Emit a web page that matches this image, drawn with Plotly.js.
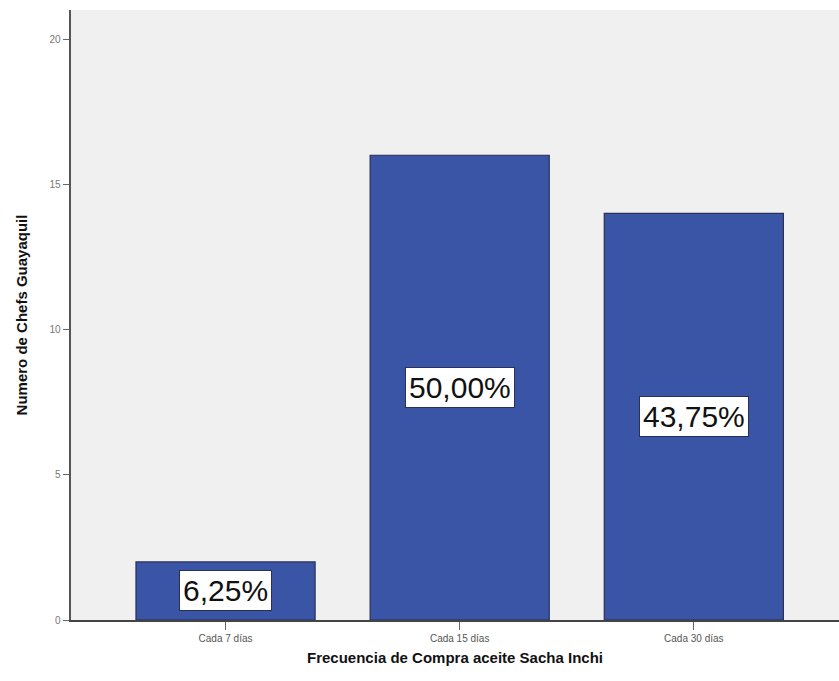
<!DOCTYPE html>
<html>
<head>
<meta charset="utf-8">
<script src="https://cdn.plot.ly/plotly-3.0.1.min.js"></script>
<style>html,body{margin:0;padding:0;background:#fff;}#chart{width:839px;height:681px;}</style>
</head>
<body>
<div id="chart"></div>
<script>
const categories = ["Cada 7 días", "Cada 15 días", "Cada 30 días"];
const counts = [2, 16, 14];
const percentLabels = ["6,25%", "50,00%", "43,75%"];
const yTicks = [0, 5, 10, 15, 20];

const trace = {
  type: "bar",
  x: categories,
  y: counts,
  width: 0.765,
  marker: { color: "#3a54a6", line: { color: "#2a2f55", width: 1.2 } },
  hoverinfo: "none"
};

const annotations = categories.map((c, i) => ({
  x: c, y: counts[i] / 2, xref: "x", yref: "y",
  text: percentLabels[i], showarrow: false,
  font: { family: "Arial, Liberation Sans, sans-serif", size: 30, color: "#111" },
  bgcolor: "#ffffff", bordercolor: "#2a2f55", borderwidth: 1, borderpad: 3
}));

const layout = {
  width: 839, height: 681,
  margin: { l: 71, r: 0, t: 10, b: 61 },
  paper_bgcolor: "#ffffff",
  plot_bgcolor: "#f0f0f0",
  showlegend: false,
  bargap: 0,
  xaxis: {
    type: "category",
    range: [-0.66, 2.62],
    showline: true, linecolor: "#444", linewidth: 1.5,
    ticks: "outside", ticklen: 8, tickcolor: "#666", tickwidth: 1,
    tickfont: { family: "Arial, Liberation Sans, sans-serif", size: 10, color: "#555" },
    showgrid: false, zeroline: false,
    title: { text: "Frecuencia de Compra aceite Sacha Inchi", standoff: 10,
      font: { family: "Arial, Liberation Sans, sans-serif", size: 15, color: "#111", weight: "bold" } }
  },
  yaxis: {
    range: [0, 21],
    tickvals: yTicks, ticktext: yTicks.map(String),
    showline: true, linecolor: "#555", linewidth: 2.5,
    ticks: "outside", ticklen: 6, tickcolor: "#666", tickwidth: 1,
    tickfont: { family: "Arial, Liberation Sans, sans-serif", size: 10, color: "#777" },
    showgrid: false, zeroline: false,
    title: { text: "Numero de Chefs Guayaquil", standoff: 18,
      font: { family: "Arial, Liberation Sans, sans-serif", size: 15, color: "#111", weight: "bold" } }
  },
  annotations: annotations
};

Plotly.newPlot("chart", [trace], layout, { displayModeBar: false, staticPlot: true });
</script>
</body>
</html>
